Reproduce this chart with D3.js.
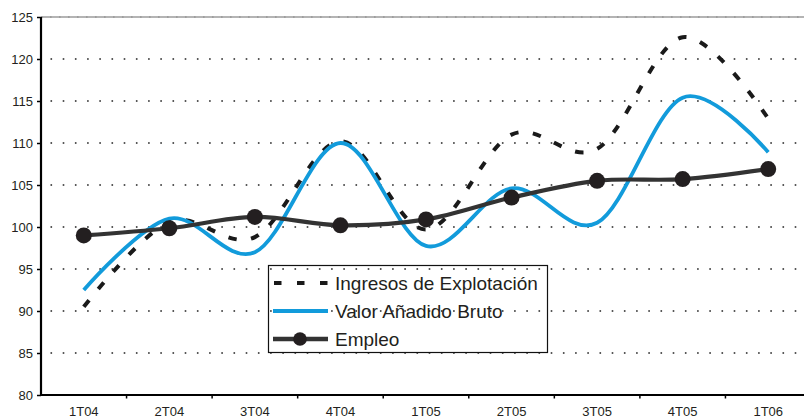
<!DOCTYPE html>
<html><head><meta charset="utf-8">
<script src="https://cdn.jsdelivr.net/npm/d3@7"></script>
<style>body{margin:0;background:#fff}svg{display:block}text{font-family:"Liberation Sans",Arial,sans-serif;fill:#231f20}</style>
</head><body>
<svg id="c" width="804" height="419"></svg>
<script>
const categories = ["1T04","2T04","3T04","4T04","1T05","2T05","3T05","4T05","1T06"];
const ingresos = [90.5, 100.6, 98.8, 110.2, 99.7, 111.0, 109.3, 122.6, 112.9];
const vab      = [92.5, 101.0, 97.0, 110.0, 97.75, 104.6, 100.5, 115.4, 108.9];
const empleo   = [99.0, 99.85, 101.2, 100.2, 100.9, 103.5, 105.5, 105.7, 106.9];
const yTicks = [80, 85, 90, 95, 100, 105, 110, 115, 120, 125];
const seriesNames = ["Ingresos de Explotación", "Valor Añadido Bruto", "Empleo"];

const svg = d3.select("#c");
const x = d3.scaleBand().domain(categories).range([41, 811]);
const y = d3.scaleLinear().domain([80, 125]).range([395, 17]);
const cx = d => x(d) + x.bandwidth() / 2;

// gridlines
const grid = svg.append("g");
grid.selectAll("line.g").data(yTicks.filter(v => v > 80 && v < 125)).enter().append("line")
  .attr("x1", 41).attr("x2", 804).attr("y1", d => y(d)).attr("y2", d => y(d))
  .attr("stroke", "#222").attr("stroke-width", 1.6).attr("stroke-dasharray", "1.6,10.6").attr("stroke-dashoffset", -9.5);
grid.append("line").attr("x1", 41).attr("x2", 804).attr("y1", y(125)).attr("y2", y(125))
  .attr("stroke", "#b4b4b4").attr("stroke-width", 2);
grid.append("line").attr("x1", 41).attr("x2", 804).attr("y1", y(125)).attr("y2", y(125))
  .attr("stroke", "#888").attr("stroke-width", 1).attr("stroke-dasharray", "1.6,7.4");

// axes
const yAxis = svg.append("g").attr("transform", "translate(41,0)")
  .call(d3.axisLeft(y).tickValues(yTicks).tickSize(4).tickPadding(4));
const xAxis = svg.append("g").attr("transform", "translate(0,395)")
  .call(d3.axisBottom(x).tickSize(0).tickPadding(12));
[yAxis, xAxis].forEach(a => {
  a.select(".domain").attr("stroke", "#000").attr("stroke-width", 2.2);
  a.selectAll("text").style("font-size", "13px").attr("fill", "#231f20");
  a.selectAll(".tick line").attr("stroke", "#000").attr("stroke-width", 1.5);
});
yAxis.select(".domain").attr("d", "M0,17V395");
xAxis.select(".domain").attr("d", "M41,0H804");
// x ticks between categories
xAxis.selectAll("line.sep").data(categories.slice(1)).enter().append("line")
  .attr("x1", d => x(d)).attr("x2", d => x(d)).attr("y1", 0).attr("y2", 3.5)
  .attr("stroke", "#000").attr("stroke-width", 1.5);

const line = d3.line().x((d, i) => cx(categories[i])).y(d => y(d)).curve(d3.curveCardinal.tension(0));

svg.append("path").datum(ingresos).attr("d", line).attr("fill", "none")
  .attr("stroke", "#1a1a1a").attr("stroke-width", 4).attr("stroke-dasharray", "8.5,14.5");
svg.append("path").datum(vab).attr("d", line).attr("fill", "none")
  .attr("stroke", "#129bdb").attr("stroke-width", 3.8);
svg.append("path").datum(empleo).attr("d", line).attr("fill", "none")
  .attr("stroke", "#333333").attr("stroke-width", 4.2);
svg.selectAll("circle.m").data(empleo).enter().append("circle")
  .attr("cx", (d, i) => cx(categories[i])).attr("cy", d => y(d)).attr("r", 8)
  .attr("fill", "#231f20");

// legend
const lg = svg.append("g");
lg.append("rect").attr("x", 268.5).attr("y", 265.5).attr("width", 279).attr("height", 87)
  .attr("fill", "none").attr("stroke", "#111").attr("stroke-width", 1.2);
const rows = [283, 311, 339];
lg.append("line").attr("x1", 274).attr("x2", 328).attr("y1", rows[0]).attr("y2", rows[0])
  .attr("stroke", "#1a1a1a").attr("stroke-width", 4).attr("stroke-dasharray", "7.5,15.5");
lg.append("line").attr("x1", 273).attr("x2", 328).attr("y1", rows[1]).attr("y2", rows[1])
  .attr("stroke", "#129bdb").attr("stroke-width", 3.8);
lg.append("line").attr("x1", 273).attr("x2", 328).attr("y1", rows[2]).attr("y2", rows[2])
  .attr("stroke", "#333333").attr("stroke-width", 4.5);
lg.append("circle").attr("cx", 300).attr("cy", rows[2]).attr("r", 6.8).attr("fill", "#231f20");
lg.selectAll("text.l").data(seriesNames).enter().append("text")
  .attr("x", 335).attr("y", (d, i) => rows[i] + 7)
  .style("font-size", "19px").text(d => d);
</script>
</body></html>
